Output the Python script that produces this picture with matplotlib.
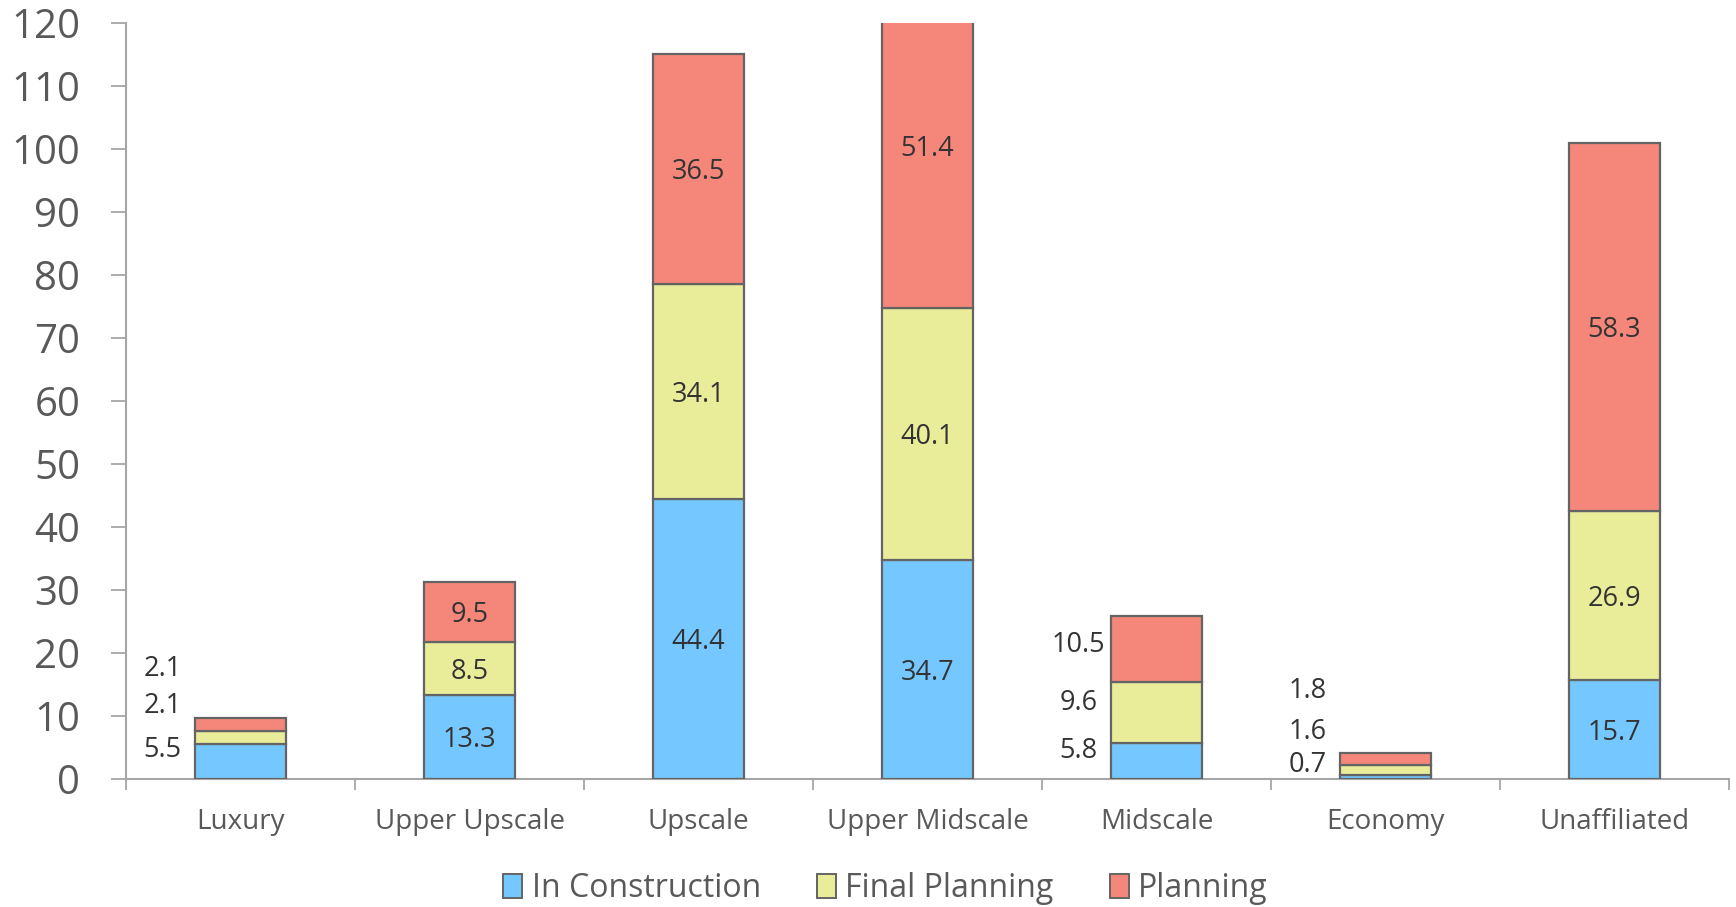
import numpy as np
import matplotlib
matplotlib.use('Agg')
import matplotlib.pyplot as plt
from matplotlib.patches import Patch

categories = ['Luxury', 'Upper Upscale', 'Upscale', 'Upper Midscale',
              'Midscale', 'Economy', 'Unaffiliated']
in_construction = [5.5, 13.3, 44.4, 34.7, 5.8, 0.7, 15.7]
final_planning = [2.1, 8.5, 34.1, 40.1, 9.6, 1.6, 26.9]
planning = [2.1, 9.5, 36.5, 51.4, 10.5, 1.8, 58.3]
series_names = ['In Construction', 'Final Planning', 'Planning']

colors = ['#75C8FF', '#E9ED9A', '#F4877A']
edge = '#646464'
grey_text = '#595959'
label_text = '#333333'

plt.rcParams['font.family'] = ['Open Sans', 'DejaVu Sans']

fig = plt.figure(figsize=(17.36, 9.07), dpi=100)
ax = fig.add_axes([0.0726, 0.141, 0.9234, 0.834])

x = np.arange(len(categories))
series = [in_construction, final_planning, planning]
bottoms = np.zeros(len(categories))
tops = []
for vals, col in zip(series, colors):
    vals = np.array(vals)
    ax.bar(x, vals, 0.4, bottom=bottoms, color=col, edgecolor=edge,
           linewidth=1.6, zorder=3)
    tops.append((bottoms.copy(), vals))
    bottoms = bottoms + vals

# small bars get their labels to the left, spread out vertically
outside = {0: [4.6, 11.6, 17.4], 4: [4.4, 12.1, 21.3], 5: [2.3, 7.4, 13.9]}
for i in range(len(categories)):
    for s, (bot, vals) in enumerate(tops):
        txt = '%.1f' % vals[i]
        if i in outside:
            ax.text(x[i] - 0.34, outside[i][s], txt, ha='center', va='center',
                    fontsize=19.5, color=label_text, zorder=4)
        else:
            ax.text(x[i], bot[i] + vals[i] / 2 - 0.5, txt, ha='center',
                    va='center', fontsize=19.5, color=label_text, zorder=4)

ax.set_xlim(-0.5, len(categories) - 0.5)
ax.set_ylim(0, 120)
ax.set_yticks(np.arange(0, 121, 10))
ax.tick_params(axis='y', labelsize=29, colors='#A6A6A6', labelcolor=grey_text,
               length=11, width=1.3, pad=22)
ax.set_xticks(np.arange(-0.5, len(categories), 1))
ax.set_xticklabels([])
ax.set_xticks(x, minor=True)
ax.set_xticklabels(categories, minor=True)
ax.tick_params(axis='x', which='major', length=8, width=1.3, colors='#A6A6A6')
ax.tick_params(axis='x', which='minor', length=0, labelsize=20,
               labelcolor=grey_text, pad=21)

for side in ['top', 'right']:
    ax.spines[side].set_visible(False)
for side in ['left', 'bottom']:
    ax.spines[side].set_color('#A6A6A6')
    ax.spines[side].set_linewidth(1.5)

handles = [Patch(facecolor=c, edgecolor=edge, linewidth=1.4, label=n)
           for c, n in zip(colors, series_names)]
fig.legend(handles=handles, loc='center', bbox_to_anchor=(0.51, 0.02),
           ncol=3, frameon=False, fontsize=23, labelcolor=grey_text,
           handlelength=0.6, handleheight=0.8, handletextpad=0.3,
           columnspacing=1.75)

fig.savefig('out.png', dpi=100)
